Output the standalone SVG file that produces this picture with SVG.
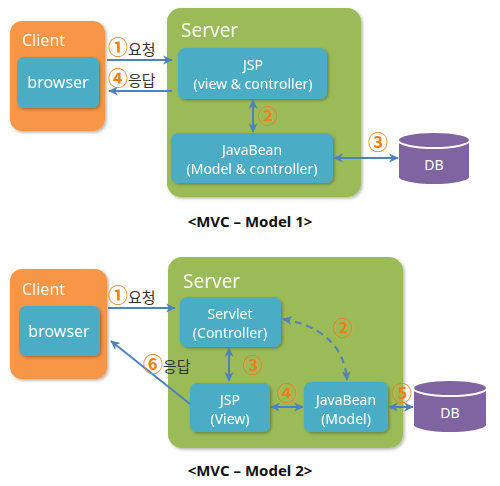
<svg xmlns="http://www.w3.org/2000/svg" width="500" height="486" viewBox="0 0 500 486">
<style>
.client{fill:#F79646}
.server{fill:#9BBB59}
.box{fill:#4BACC6}
.db{fill:#8064A2;stroke:#fff;stroke-width:2}
.title{font-family:"Noto Sans","Noto Sans CJK KR",sans-serif;fill:#fff;fill-opacity:0.92}
.lbl{font-family:"Noto Sans","Noto Sans CJK KR",sans-serif;fill:#fff;font-size:14px;text-anchor:middle}
.edge{stroke:#4F81BD;stroke-width:2;fill:none}
.num{font-family:"Noto Sans CJK KR",sans-serif;fill:#F07F1A;font-size:20px;font-weight:bold}
.kr{font-family:"Noto Sans CJK KR",sans-serif;fill:#333;font-size:15px;font-weight:normal}
.cap{font-family:"Noto Sans","Noto Sans CJK KR",sans-serif;font-size:15px;font-weight:bold;fill:#111;text-anchor:middle}
</style>
<defs>
<marker id="ah" viewBox="0 0 10 10" refX="9" refY="5" markerWidth="10" markerHeight="10" markerUnits="userSpaceOnUse" orient="auto-start-reverse">
<path d="M0,0.5 L10,5 L0,9.5 L3,5 z" fill="#4F81BD"/>
</marker>
<filter id="sh" x="-10%" y="-10%" width="125%" height="125%">
<feDropShadow dx="1.5" dy="1.5" stdDeviation="1.5" flood-color="#000" flood-opacity="0.3"/>
</filter>
</defs>

<!-- Model 1 -->
<g id="client1" filter="url(#sh)">
<rect class="client" x="10" y="21" width="95" height="110" rx="12"/>
<text class="title" x="22" y="46" font-size="16">Client</text>
</g>
<g id="browser1" filter="url(#sh)">
<rect class="box" x="17" y="57" width="82" height="51" rx="7"/>
<text class="lbl" x="58" y="88" style="font-size:16px">browser</text>
</g>
<g id="server1" filter="url(#sh)">
<rect class="server" x="167" y="8" width="194" height="189" rx="14"/>
<text class="title" x="181" y="37" font-size="19">Server</text>
</g>
<g id="jsp1" filter="url(#sh)">
<rect class="box" x="178" y="48" width="149" height="51" rx="7"/>
<text class="lbl" x="253" y="70">JSP</text>
<text class="lbl" x="253" y="89">(view &amp; controller)</text>
</g>
<g id="javabean1" filter="url(#sh)">
<rect class="box" x="171" y="133" width="162" height="50" rx="7"/>
<text class="lbl" x="252" y="155">JavaBean</text>
<text class="lbl" x="252" y="174">(Model &amp; controller)</text>
</g>
<g id="db1">
<path class="db" d="M398,140 L398,177 A36,8 0 0 0 470,177 L470,140 A36,8 0 0 0 398,140 Z"/>
<ellipse class="db" cx="434" cy="140" rx="36" ry="8"/>
<text class="lbl" x="434" y="170">DB</text>
</g>

<!-- Model 2 -->
<g id="client2" filter="url(#sh)">
<rect class="client" x="10" y="269" width="97" height="110" rx="12"/>
<text class="title" x="22" y="295" font-size="16">Client</text>
</g>
<g id="browser2" filter="url(#sh)">
<rect class="box" x="19" y="306" width="81" height="50" rx="7"/>
<text class="lbl" x="59" y="337" style="font-size:16px">browser</text>
</g>
<g id="server2" filter="url(#sh)">
<rect class="server" x="168" y="257" width="235" height="191" rx="14"/>
<text class="title" x="183" y="288" font-size="19">Server</text>
</g>
<g id="servlet2" filter="url(#sh)">
<rect class="box" x="180" y="297" width="101" height="50" rx="7"/>
<text class="lbl" x="230" y="319">Servlet</text>
<text class="lbl" x="230" y="338">(Controller)</text>
</g>
<g id="jsp2" filter="url(#sh)">
<rect class="box" x="190" y="383" width="80" height="49" rx="7"/>
<text class="lbl" x="230" y="405">JSP</text>
<text class="lbl" x="230" y="424">(View)</text>
</g>
<g id="javabean2" filter="url(#sh)">
<rect class="box" x="304" y="382" width="84" height="50" rx="7"/>
<text class="lbl" x="346" y="405">JavaBean</text>
<text class="lbl" x="346" y="424">(Model)</text>
</g>
<g id="db2">
<path class="db" d="M413,388 L413,425 A37,8 0 0 0 487,425 L487,388 A37,8 0 0 0 413,388 Z"/>
<ellipse class="db" cx="450" cy="388" rx="37" ry="8"/>
<text class="lbl" x="450" y="418">DB</text>
</g>

<g id="connectors">
<line class="edge" x1="107" y1="60" x2="172" y2="60" marker-end="url(#ah)"/>
<line class="edge" x1="172" y1="91" x2="109" y2="91" marker-end="url(#ah)"/>
<line class="edge" x1="253" y1="100" x2="253" y2="132" marker-start="url(#ah)" marker-end="url(#ah)"/>
<line class="edge" x1="334" y1="158" x2="398" y2="158" marker-start="url(#ah)" marker-end="url(#ah)"/>

<line class="edge" x1="108" y1="308" x2="175" y2="308" marker-end="url(#ah)"/>
<line class="edge" x1="190" y1="404" x2="111" y2="341" marker-end="url(#ah)"/>
<line class="edge" x1="229" y1="348" x2="229" y2="381" marker-start="url(#ah)" marker-end="url(#ah)"/>
<path class="edge" d="M283,319 Q343,330 347,380" stroke-dasharray="7,5" marker-start="url(#ah)" marker-end="url(#ah)"/>
<line class="edge" x1="271" y1="407" x2="303" y2="407" marker-start="url(#ah)" marker-end="url(#ah)"/>
<line class="edge" x1="389" y1="407" x2="413" y2="407" marker-start="url(#ah)" marker-end="url(#ah)"/>
</g>

<g id="labels">
<text x="108" y="55"><tspan class="num">①</tspan><tspan class="kr">요청</tspan></text>
<text x="108" y="86"><tspan class="num">④</tspan><tspan class="kr">응답</tspan></text>
<text class="num" x="258" y="124">②</text>
<text class="num" x="368" y="150">③</text>

<text x="108" y="303"><tspan class="num">①</tspan><tspan class="kr">요청</tspan></text>
<text x="143" y="372"><tspan class="num">⑥</tspan><tspan class="kr">응답</tspan></text>
<text class="num" x="243" y="373">③</text>
<text class="num" x="333" y="336">②</text>
<text class="num" x="277" y="401">④</text>
<text class="num" x="392" y="401">⑤</text>
</g>

<text class="cap" x="250" y="227">&lt;MVC – Model 1&gt;</text>
<text class="cap" x="250" y="476">&lt;MVC – Model 2&gt;</text>
</svg>
